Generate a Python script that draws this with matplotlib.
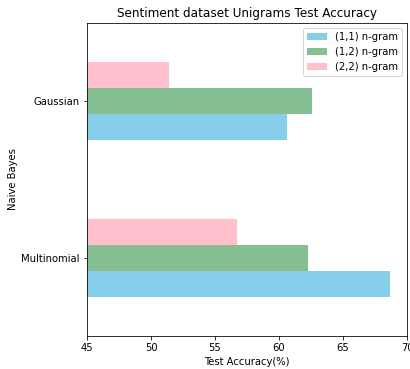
import matplotlib
matplotlib.use("Agg")
import matplotlib.pyplot as plt
import numpy as np

# data
models = ["Multinomial", "Gaussian"]
acc_11 = [68.7, 60.6]
acc_12 = [62.3, 62.6]
acc_22 = [56.7, 51.4]
series_labels = ["(1,1) n-gram", "(1,2) n-gram", "(2,2) n-gram"]
colors = ["skyblue", "#86bf91", "pink"]

fig = plt.figure(figsize=(410 / 72, 369 / 72), dpi=72)
ax = fig.add_axes([87 / 410, 33 / 369, 320 / 410, 313 / 369])

y = np.arange(len(models))
h = 0.5 / 3
for i, (vals, lab, c) in enumerate(zip([acc_11, acc_12, acc_22], series_labels, colors)):
    ax.barh(y - 0.25 + h / 2 + i * h, vals, height=h, color=c, label=lab)

ax.set_yticks(y)
ax.set_yticklabels(models)
ax.set_ylim(-0.5, 1.5)
ax.set_xlim(45, 70)
ax.set_xlabel("Test Accuracy(%)")
ax.set_ylabel("Naive Bayes")
ax.set_title("Sentiment dataset Unigrams Test Accuracy")
ax.legend(loc="upper right")

fig.savefig("out.png", dpi=72)
